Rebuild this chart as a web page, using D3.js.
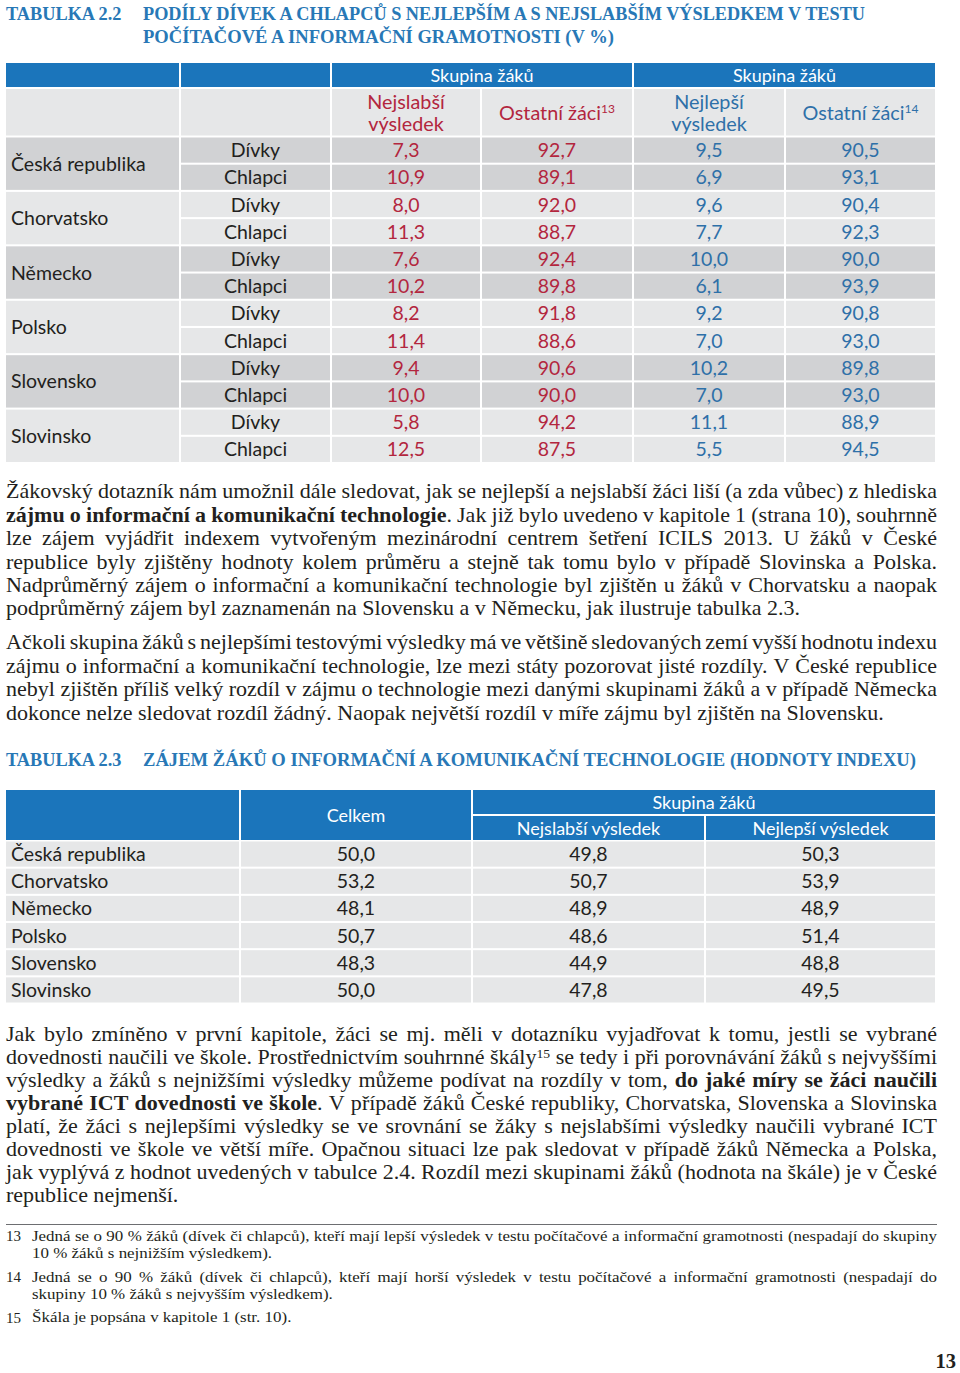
<!DOCTYPE html>
<html><head><meta charset="utf-8">
<script src="https://cdn.jsdelivr.net/npm/d3@7"></script>
<style>body{margin:0;background:#fff}</style>
</head><body><svg id="c" width="960" height="1373"></svg>
<script>
// ---------- DATA ----------
const countries = ["Česká republika","Chorvatsko","Německo","Polsko","Slovensko","Slovinsko"];
const genders = ["Dívky","Chlapci"];
const weakest = [7.3,10.9,8.0,11.3,7.6,10.2,8.2,11.4,9.4,10.0,5.8,12.5];
const othersWeak = [92.7,89.1,92.0,88.7,92.4,89.8,91.8,88.6,90.6,90.0,94.2,87.5];
const best = [9.5,6.9,9.6,7.7,10.0,6.1,9.2,7.0,10.2,7.0,11.1,5.5];
const othersBest = [90.5,93.1,90.4,92.3,90.0,93.9,90.8,93.0,89.8,93.0,88.9,94.5];
const interestTotal = [50.0,53.2,48.1,50.7,48.3,50.0];
const interestWeak = [49.8,50.7,48.9,48.6,44.9,47.8];
const interestBest = [50.3,53.9,48.9,51.4,48.8,49.5];

const title22a = "TABULKA 2.2";
const title22b = ["PODÍLY DÍVEK A CHLAPCŮ S NEJLEPŠÍM A S NEJSLABŠÍM VÝSLEDKEM V TESTU","POČÍTAČOVÉ A INFORMAČNÍ GRAMOTNOSTI (V %)"];
const title23a = "TABULKA 2.3";
const title23b = "ZÁJEM ŽÁKŮ O INFORMAČNÍ A KOMUNIKAČNÍ TECHNOLOGIE (HODNOTY INDEXU)";

const para1 = [
"Žákovský dotazník nám umožnil dále sledovat, jak se nejlepší a nejslabší žáci liší (a zda vůbec) z hlediska",
"*zájmu o informační a komunikační technologie*. Jak již bylo uvedeno v kapitole 1 (strana 10), souhrnně",
"lze zájem vyjádřit indexem vytvořeným mezinárodní centrem šetření ICILS 2013. U žáků v České",
"republice byly zjištěny hodnoty kolem průměru a stejně tak tomu bylo v případě Slovinska a Polska.",
"Nadprůměrný zájem o informační a komunikační technologie byl zjištěn u žáků v Chorvatsku a naopak",
"podprůměrný zájem byl zaznamenán na Slovensku a v Německu, jak ilustruje tabulka 2.3."];
const para2 = [
"Ačkoli skupina žáků s nejlepšími testovými výsledky má ve většině sledovaných zemí vyšší hodnotu indexu",
"zájmu o informační a komunikační technologie, lze mezi státy pozorovat jisté rozdíly. V České republice",
"nebyl zjištěn příliš velký rozdíl v zájmu o technologie mezi danými skupinami žáků a v případě Německa",
"dokonce nelze sledovat rozdíl žádný. Naopak největší rozdíl v míře zájmu byl zjištěn na Slovensku."];
const para3 = [
"Jak bylo zmíněno v první kapitole, žáci se mj. měli v dotazníku vyjadřovat k tomu, jestli se vybrané",
"dovednosti naučili ve škole. Prostřednictvím souhrnné škály^15 se tedy i při porovnávání žáků s nejvyššími",
"výsledky a žáků s nejnižšími výsledky můžeme podívat na rozdíly v tom, *do jaké míry se žáci naučili*",
"*vybrané ICT dovednosti ve škole*. V případě žáků České republiky, Chorvatska, Slovenska a Slovinska",
"platí, že žáci s nejlepšími výsledky se ve srovnání se žáky s nejslabšími výsledky naučili vybrané ICT",
"dovednosti ve škole ve větší míře. Opačnou situaci lze pak sledovat v případě žáků Německa a Polska,",
"jak vyplývá z hodnot uvedených v tabulce 2.4. Rozdíl mezi skupinami žáků (hodnota na škále) je v České",
"republice nejmenší."];
const footNums = ["13","14","15"];
const footTexts = [
["Jedná se o 90 % žáků (dívek či chlapců), kteří mají lepší výsledek v testu počítačové a informační gramotnosti (nespadají do skupiny","10 % žáků s nejnižším výsledkem)."],
["Jedná se o 90 % žáků (dívek či chlapců), kteří mají horší výsledek v testu počítačové a informační gramotnosti (nespadají do","skupiny 10 % žáků s nejvyšším výsledkem)."],
["Škála je popsána v kapitole 1 (str. 10)."]];
const pageNumber = "13";

// ---------- STYLE ----------
const C = {blue:"#1b75bb", dark:"#d1d2d4", light:"#e6e7e8", red:"#b3263e", tblue:"#2e70a8",
           text:"#231f20", title:"#2878b6"};
const SANS = "Lato, 'Open Sans', sans-serif";
const SERIF = "'Liberation Serif', 'Times New Roman', serif";
const fmt = v => v.toFixed(1).replace(".", ",");
const TF = 19.5;   // table body font size

const svg = d3.select("#c");
svg.append("rect").attr("width",960).attr("height",1373).attr("fill","#fff");

// ---------- TEXT HELPERS ----------
function parseLine(str){
  let bold=false;
  return str.split(" ").map(w=>{
    const segs=[]; let cur="", sup=false;
    for(const ch of w){
      if(ch==="*"){ if(cur) segs.push({t:cur,b:bold,sup}); cur=""; bold=!bold; }
      else if(ch==="^"){ if(cur) segs.push({t:cur,b:bold,sup}); cur=""; sup=true; }
      else cur+=ch;
    }
    if(cur) segs.push({t:cur,b:bold,sup});
    return segs;
  });
}
function textLine(str, x, y, width, justify, size, sx){
  const g = svg.append("g").attr("font-family",SERIF).attr("fill",C.text).attr("font-size",size);
  const words = parseLine(str);
  const nodes = words.map(w=>{
    const t = g.append("text").attr("y",y);
    w.forEach(s=>{
      const ts = t.append("tspan").text(s.t);
      if(s.b) ts.attr("font-weight","bold");
      if(s.sup) ts.attr("font-size",size*0.62).attr("baseline-shift","super");
    });
    return t;
  });
  const widths = nodes.map(n=>n.node().getComputedTextLength());
  const sum = d3.sum(widths);
  const W = width/sx;
  let gap = size*0.25, scale = 1;
  if(justify && nodes.length>1){
    gap = (W - sum)/(nodes.length-1);
    const minGap = size*0.12;
    if(gap < minGap){ gap = minGap; scale = W/(sum + minGap*(nodes.length-1)); }
  }
  let cx = 0;
  nodes.forEach((n,i)=>{ n.attr("x",cx); cx += widths[i] + gap; });
  g.attr("transform",`translate(${x},0) scale(${sx*scale},1)`);
}
function paragraph(lines, x, y0, lh, width, size, sx){
  lines.forEach((l,i)=> textLine(l, x, y0 + i*lh, width, i<lines.length-1, size, sx));
}
function title(a, bLines, widths, y, lh){
  const g = svg.append("g").attr("font-family",SERIF).attr("font-weight","bold").attr("fill",C.title).attr("font-size",18.3);
  g.append("text").attr("x",6).attr("y",y).text(a);
  bLines.forEach((l,i)=> g.append("text").attr("x",143).attr("y",y+i*lh)
    .attr("textLength",widths[i]).attr("lengthAdjust","spacingAndGlyphs").text(l));
}

// ---------- TABLE 2.2 ----------
title(title22a, title22b, [722,471], 19.5, 23);

const cols = ["country","gender","weak","othW","best","othB","end"];
const colX = d3.scaleOrdinal().domain(cols).range([6,181,332,482,634,786,937]);
const cw = k => colX(cols[cols.indexOf(k)+1]) - colX(k) - 2;
const cc = k => colX(k) + cw(k)/2;
const rowY = d3.scaleBand().domain(d3.range(12)).range([137.5,462]).paddingInner(0.075);
const bw = rowY.bandwidth();

const t22 = svg.append("g").attr("font-family",SANS);
// header row 1
[["country","country"],["gender","gender"],["weak","othW"],["best","othB"]].forEach(([a,b])=>{
  t22.append("rect").attr("x",colX(a)).attr("y",63).attr("width",colX(b)+cw(b)-colX(a)).attr("height",24).attr("fill",C.blue);
});
[["weak","othW"],["best","othB"]].forEach(([a,b])=>{
  t22.append("text").attr("x",(colX(a)+colX(b)+cw(b))/2).attr("y",81.5).attr("text-anchor","middle")
    .attr("fill","#fff").attr("font-size",18).text("Skupina žáků");
});
// header row 2
cols.slice(0,6).forEach(k=>{
  t22.append("rect").attr("x",colX(k)).attr("y",89).attr("width",cw(k)).attr("height",46.5).attr("fill",C.light);
});
function twoLine(k, a, b, color){
  t22.append("text").attr("x",cc(k)).attr("y",108.5).attr("text-anchor","middle").attr("fill",color).attr("font-size",19.8).text(a);
  t22.append("text").attr("x",cc(k)).attr("y",130.5).attr("text-anchor","middle").attr("fill",color).attr("font-size",19.8).text(b);
}
function supLabel(k, a, s, color){
  const t = t22.append("text").attr("x",cc(k)).attr("y",119.5).attr("text-anchor","middle").attr("fill",color).attr("font-size",19.8);
  t.append("tspan").text(a);
  t.append("tspan").attr("font-size",12).attr("baseline-shift","super").text(s);
}
twoLine("weak","Nejslabší","výsledek",C.red);
supLabel("othW","Ostatní žáci","13",C.red);
twoLine("best","Nejlepší","výsledek",C.tblue);
supLabel("othB","Ostatní žáci","14",C.tblue);

// body
countries.forEach((c,g)=>{
  const fill = g%2===0 ? C.dark : C.light;
  const y0 = rowY(2*g), y1 = rowY(2*g+1)+bw;
  t22.append("rect").attr("x",colX("country")).attr("y",y0).attr("width",cw("country")).attr("height",y1-y0).attr("fill",fill);
  t22.append("text").attr("x",11).attr("y",(y0+y1)/2+7).attr("fill",C.text).attr("font-size",TF).text(c);
  [0,1].forEach(j=>{
    const r = 2*g+j;
    cols.slice(1,6).forEach(k=>{
      t22.append("rect").attr("x",colX(k)).attr("y",rowY(r)).attr("width",cw(k)).attr("height",bw).attr("fill",fill);
    });
    const ty = rowY(r)+bw/2+7;
    t22.append("text").attr("x",cc("gender")).attr("y",ty).attr("text-anchor","middle").attr("fill",C.text).attr("font-size",TF).text(genders[j]);
    [["weak",weakest,C.red],["othW",othersWeak,C.red],["best",best,C.tblue],["othB",othersBest,C.tblue]].forEach(([k,arr,col])=>{
      t22.append("text").attr("x",cc(k)).attr("y",ty).attr("text-anchor","middle").attr("fill",col).attr("font-size",TF).text(fmt(arr[r]));
    });
  });
});

// ---------- PARAGRAPHS ----------
const BODY = 20.3, LH = 23.4, SX = 1.085;
paragraph(para1, 6, 498.5, LH, 931, BODY, SX);
paragraph(para2, 6, 649.5, LH, 931, BODY, SX);

// ---------- TABLE 2.3 ----------
title(title23a, [title23b], [773], 766, 23);
const cols2 = ["country","total","weak","best","end"];
const colX2 = d3.scaleOrdinal().domain(cols2).range([6,241,473,706,937]);
const cw2 = k => colX2(cols2[cols2.indexOf(k)+1]) - colX2(k) - 2;
const cc2 = k => colX2(k) + cw2(k)/2;
const rowY2 = d3.scaleBand().domain(d3.range(6)).range([841.5,1002.5]).paddingInner(0.075);
const bw2 = rowY2.bandwidth();
const t23 = svg.append("g").attr("font-family",SANS);
t23.append("rect").attr("x",colX2("country")).attr("y",790).attr("width",cw2("country")).attr("height",50).attr("fill",C.blue);
t23.append("rect").attr("x",colX2("total")).attr("y",790).attr("width",cw2("total")).attr("height",50).attr("fill",C.blue);
t23.append("rect").attr("x",colX2("weak")).attr("y",790).attr("width",colX2("best")+cw2("best")-colX2("weak")).attr("height",24).attr("fill",C.blue);
t23.append("rect").attr("x",colX2("weak")).attr("y",816).attr("width",cw2("weak")).attr("height",24).attr("fill",C.blue);
t23.append("rect").attr("x",colX2("best")).attr("y",816).attr("width",cw2("best")).attr("height",24).attr("fill",C.blue);
const hdr = (x,y,s)=> t23.append("text").attr("x",x).attr("y",y).attr("text-anchor","middle").attr("fill","#fff").attr("font-size",18).text(s);
hdr(cc2("total"),821.5,"Celkem");
hdr((colX2("weak")+colX2("best")+cw2("best"))/2,808.5,"Skupina žáků");
hdr(cc2("weak"),834.5,"Nejslabší výsledek");
hdr(cc2("best"),834.5,"Nejlepší výsledek");
countries.forEach((c,i)=>{
  const y = rowY2(i);
  cols2.slice(0,4).forEach(k=>{
    t23.append("rect").attr("x",colX2(k)).attr("y",y).attr("width",cw2(k)).attr("height",bw2).attr("fill",C.light);
  });
  const ty = y+bw2/2+7;
  t23.append("text").attr("x",11).attr("y",ty).attr("fill",C.text).attr("font-size",TF).text(c);
  [["total",interestTotal],["weak",interestWeak],["best",interestBest]].forEach(([k,arr])=>{
    t23.append("text").attr("x",cc2(k)).attr("y",ty).attr("text-anchor","middle").attr("fill",C.text).attr("font-size",TF).text(fmt(arr[i]));
  });
});

// ---------- PARAGRAPH 3 ----------
paragraph(para3, 6, 1041.5, 23, 931, BODY, SX);

// ---------- FOOTNOTES ----------
svg.append("line").attr("x1",6).attr("x2",937).attr("y1",1224.5).attr("y2",1224.5).attr("stroke","#6d6e71").attr("stroke-width",1);
const FS = 15, FSX = 1.13;
const footY = [[1241,1258.5],[1282,1299.5],[1322.5]];
footNums.forEach((n,i)=>{
  svg.append("text").attr("x",6).attr("y",footY[i][0]).attr("font-family",SERIF).attr("font-size",FS).attr("fill",C.text).text(n);
  footTexts[i].forEach((l,j)=> textLine(l, 32, footY[i][j], 905, j<footTexts[i].length-1, FS, FSX));
});
svg.append("text").attr("x",956).attr("y",1368).attr("text-anchor","end").attr("font-family",SERIF)
  .attr("font-weight","bold").attr("font-size",20.5).attr("fill",C.text).text(pageNumber);
</script></body></html>
